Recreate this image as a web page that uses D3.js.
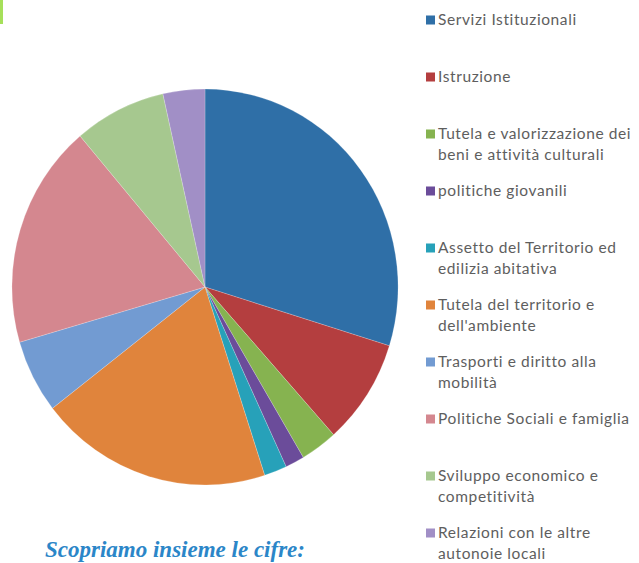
<!DOCTYPE html>
<html>
<head>
<meta charset="utf-8">
<script src="https://cdn.jsdelivr.net/npm/d3@7"></script>
<style>
  body { margin: 0; background: #fff; }
  #wrapper { width: 639px; height: 563px; overflow: hidden; }
</style>
</head>
<body>
<div id="wrapper"></div>
<script>
// data (percent of total)
const categories = [
  "Servizi Istituzionali",
  "Istruzione",
  "Tutela e valorizzazione dei|beni e attività culturali",
  "politiche giovanili",
  "Assetto del Territorio ed|edilizia abitativa",
  "Tutela del territorio e|dell'ambiente",
  "Trasporti e diritto alla|mobilità",
  "Politiche Sociali e famiglia",
  "Sviluppo economico e|competitività",
  "Relazioni con le altre|autonoie locali"
]
const values = [29.8, 8.6, 3.1, 1.6, 1.9, 19.5, 6.0, 18.3, 7.7, 3.5]
const colors = ["#2f6fa7", "#b43e3f", "#86b350", "#6b4c9a", "#27a1b9",
  "#e0843c", "#729bd2", "#d4878f", "#a6c88f", "#a18fc6"]
const title = "Scopriamo insieme le cifre:"

const dimensions = {
  width: 639,
  height: 563,
  cx: 205,
  cy: 287,
  radius: 196,
}

const svg = d3.select("#wrapper")
  .append("svg")
  .attr("width", dimensions.width)
  .attr("height", dimensions.height)

// little green strip in the top-left corner of the scan
svg.append("rect")
  .attr("x", 0).attr("y", 0)
  .attr("width", 3).attr("height", 24)
  .attr("fill", "#a6e05a")

const pie = d3.pie().sort(null).value(d => d)
const arc = d3.arc().innerRadius(0).outerRadius(dimensions.radius)

const pieG = svg.append("g")
  .attr("transform", `translate(${dimensions.cx},${dimensions.cy}) scale(0.985,1.01)`)

pieG.selectAll("path")
  .data(pie(values))
  .join("path")
  .attr("d", arc)
  .attr("fill", (d, i) => colors[i])
  .attr("stroke", "#fff")
  .attr("stroke-width", 0.4)
  .attr("stroke-opacity", 0.5)

// legend
const legendY = d3.scalePoint()
  .domain(d3.range(categories.length))
  .range([20, 533])

const legend = svg.append("g")
  .selectAll("g")
  .data(categories)
  .join("g")
  .attr("transform", (d, i) => `translate(426,${legendY(i)})`)

legend.append("rect")
  .attr("x", 0).attr("y", -4.5)
  .attr("width", 9).attr("height", 9)
  .attr("fill", (d, i) => colors[i])

legend.append("text")
  .attr("font-family", "Lato, 'Open Sans', sans-serif")
  .attr("font-size", 15.5)
  .attr("letter-spacing", 0.6)
  .attr("fill", "#5e5e5e")
  .selectAll("tspan")
  .data(d => d.split("|"))
  .join("tspan")
  .attr("x", 12)
  .attr("y", (d, i) => 5 + i * 21)
  .text(d => d)

svg.append("text")
  .attr("x", 45)
  .attr("y", 557)
  .attr("font-family", "'Liberation Serif', 'DejaVu Serif', serif")
  .attr("font-size", 23)
  .attr("font-weight", "bold")
  .attr("font-style", "italic")
  .attr("fill", "#2b86c8")
  .text(title)
</script>
</body>
</html>
